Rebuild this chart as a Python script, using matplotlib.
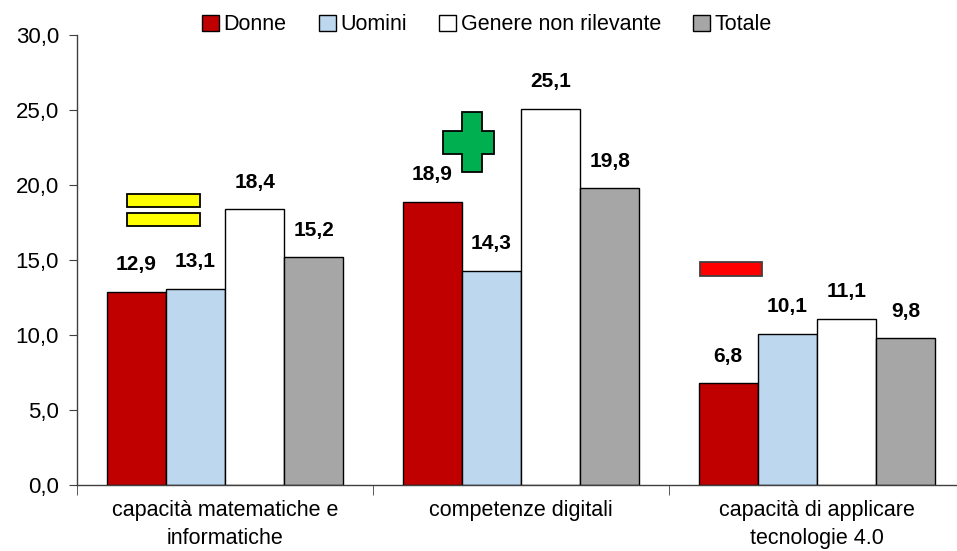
import matplotlib
matplotlib.use("Agg")
import matplotlib.pyplot as plt
from matplotlib.patches import Polygon, Rectangle
from matplotlib.ticker import FuncFormatter, FixedLocator, NullFormatter
import numpy as np

categories = ["capacità matematiche e\ninformatiche", "competenze digitali", "capacità di applicare\ntecnologie 4.0"]
series_names = ["Donne", "Uomini", "Genere non rilevante", "Totale"]
donne = [12.9, 18.9, 6.8]
uomini = [13.1, 14.3, 10.1]
non_rilevante = [18.4, 25.1, 11.1]
totale = [15.2, 19.8, 9.8]
colors = ["#C00000", "#BDD7EE", "#FFFFFF", "#A6A6A6"]

plt.rcParams['font.family'] = ['Liberation Sans', 'DejaVu Sans']

fig = plt.figure(figsize=(9.57, 5.51), dpi=100)
ax = fig.add_axes([77/957, 66/551, 888/957, 450/551])

x = np.arange(len(categories))
w = 0.2
all_series = [donne, uomini, non_rilevante, totale]
for i, (vals, c, name) in enumerate(zip(all_series, colors, series_names)):
    pos = x + (i - 1.5) * w
    bars = ax.bar(pos, vals, width=w, color=c, edgecolor="black", linewidth=1.0, label=name, zorder=2)
    for b, v in zip(bars, vals):
        ax.text(b.get_x() + b.get_width() / 2, v + 1.15, f"{v:.1f}".replace(".", ","),
                ha="center", va="bottom", fontsize=15, fontweight="bold")

ax.set_xlim(-0.5, 2.5)
ax.set_ylim(0, 30)
ax.set_yticks(np.arange(0, 30.1, 5))
ax.yaxis.set_major_formatter(FuncFormatter(lambda v, p: f"{v:.1f}".replace(".", ",")))
ax.tick_params(axis="y", labelsize=16, length=6, direction="out", color="#404040", pad=7)

ax.set_xticks(x)
ax.set_xticklabels(categories, fontsize=15.5, linespacing=1.45)
ax.tick_params(axis="x", which="major", length=0, pad=11)
ax.xaxis.set_minor_locator(FixedLocator([-0.5, 0.5, 1.5, 2.5]))
ax.xaxis.set_minor_formatter(NullFormatter())
ax.tick_params(axis="x", which="minor", length=7, direction="out", color="#404040")

for s in ["top", "right"]:
    ax.spines[s].set_visible(False)
for s in ["left", "bottom"]:
    ax.spines[s].set_color("#404040")
    ax.spines[s].set_linewidth(1.0)

# decorative symbols
ax.add_patch(Rectangle((-0.331, 18.53), 0.247, 0.87, facecolor="#FFFF00", edgecolor="black", lw=1.3, zorder=3))
ax.add_patch(Rectangle((-0.331, 17.27), 0.247, 0.86, facecolor="#FFFF00", edgecolor="black", lw=1.3, zorder=3))
cx0, cx1 = 0.736, 0.909
vx0, vx1 = 0.801, 0.868
cy0, cy1 = 20.87, 24.87
hy0, hy1 = 22.1, 23.6
cross = [(vx0, cy1), (vx1, cy1), (vx1, hy1), (cx1, hy1), (cx1, hy0), (vx1, hy0), (vx1, cy0),
         (vx0, cy0), (vx0, hy0), (cx0, hy0), (cx0, hy1), (vx0, hy1)]
ax.add_patch(Polygon(cross, closed=True, facecolor="#00B050", edgecolor="black", lw=1.3, zorder=3))
ax.add_patch(Rectangle((1.605, 13.93), 0.209, 0.94, facecolor="#FF0000", edgecolor="#404040", lw=1.3, zorder=3))

handles, labels = ax.get_legend_handles_labels()
fig.legend(handles, labels, loc="center", bbox_to_anchor=(487/957, 1 - 25/551), ncol=4, frameon=False,
           fontsize=15.5, handlelength=0.8, handleheight=0.8, handletextpad=0.2, columnspacing=1.5)

fig.savefig("out.png", dpi=100)
